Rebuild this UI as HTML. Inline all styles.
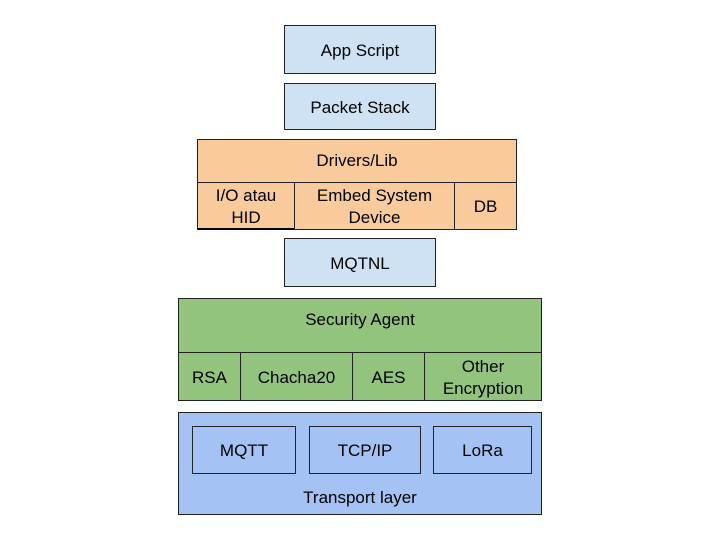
<!DOCTYPE html>
<html><head><style>
body{margin:0;width:720px;height:540px;background:#fff;position:relative;font-family:"Liberation Sans",Arial,sans-serif;font-size:17px;color:#000}
.b{position:absolute;box-sizing:border-box;border:1px solid #222;display:flex;align-items:center;justify-content:center;text-align:center;line-height:22px;padding-top:2px}
.lb{background:#cfe2f3}.or{background:#f9cb9c}.gr{background:#93c47d}.tb{background:#a4c2f4}
</style></head><body>
<div class="b lb" style="left:284px;top:25px;width:152px;height:49px">App Script</div>
<div class="b lb" style="left:284px;top:83px;width:152px;height:47px">Packet Stack</div>
<div class="b or" style="left:197px;top:139px;width:320px;height:91px;align-items:flex-start;padding-top:10px">Drivers/Lib</div>
<div class="b or" style="left:197px;top:182px;width:98px;height:48px;border-bottom:2px solid #000">I/O atau<br>HID</div>
<div class="b or" style="left:294px;top:182px;width:161px;height:48px">Embed System<br>Device</div>
<div class="b or" style="left:454px;top:182px;width:63px;height:48px">DB</div>
<div class="b lb" style="left:284px;top:238px;width:152px;height:49px">MQTNL</div>
<div class="b gr" style="left:178px;top:298px;width:364px;height:103px;align-items:flex-start;padding-top:10px">Security Agent</div>
<div class="b gr" style="left:178px;top:352px;width:63px;height:49px">RSA</div>
<div class="b gr" style="left:240px;top:352px;width:113px;height:49px">Chacha20</div>
<div class="b gr" style="left:352px;top:352px;width:73px;height:49px">AES</div>
<div class="b gr" style="left:424px;top:352px;width:118px;height:49px">Other<br>Encryption</div>
<div class="b tb" style="left:178px;top:412px;width:364px;height:103px;align-items:flex-end;padding-bottom:5px">Transport layer</div>
<div class="b tb" style="left:192px;top:426px;width:104px;height:48px">MQTT</div>
<div class="b tb" style="left:309px;top:426px;width:112px;height:48px">TCP/IP</div>
<div class="b tb" style="left:433px;top:426px;width:99px;height:48px">LoRa</div>
</body></html>
